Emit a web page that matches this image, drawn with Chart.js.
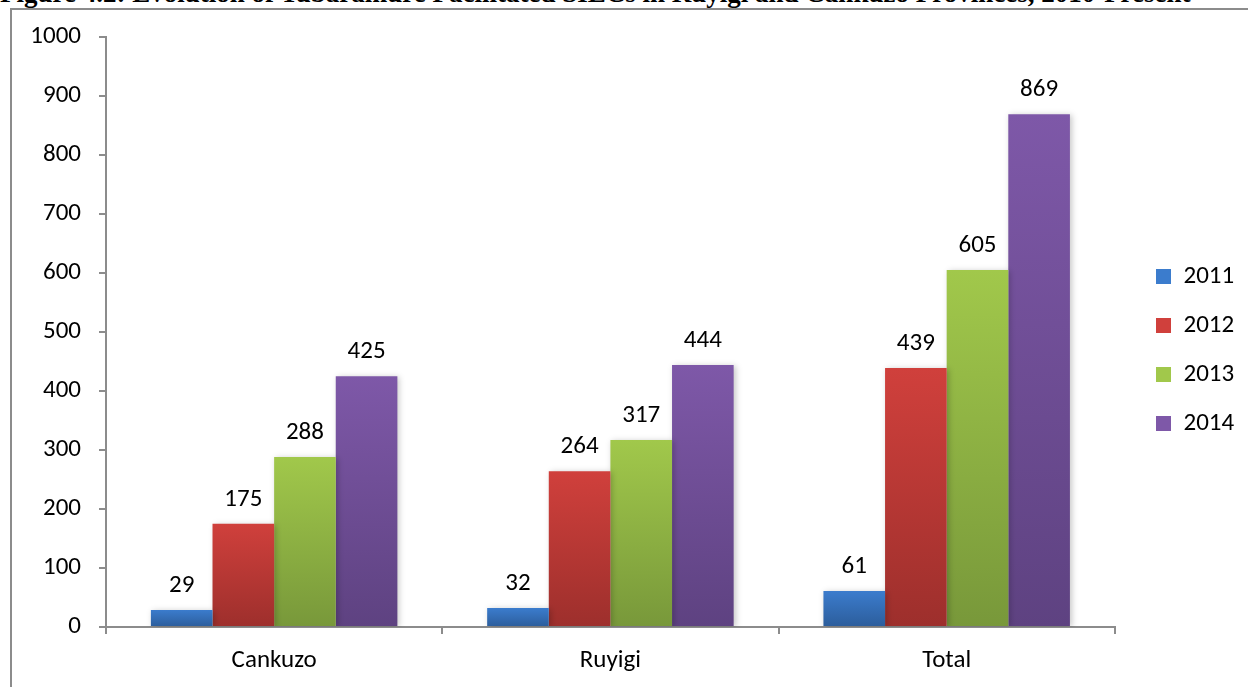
<!DOCTYPE html>
<html>
<head>
<meta charset="utf-8">
<script src="https://cdn.jsdelivr.net/npm/chart.js@4.4.1/dist/chart.umd.min.js"></script>
<style>
    html, body { margin: 0; padding: 0; background: #fff; overflow: hidden; }
    #title {
        position: absolute; left: 0; top: -20px; white-space: nowrap;
        font: bold 27px "Liberation Serif", "Times New Roman", serif; line-height: 27px; color: #000;
    }
    #frame {
        position: absolute; left: 10px; top: 8px; width: 1300px; height: 700px;
        border-top: 2px solid #8c8c8c; border-left: 2px solid #8c8c8c;
    }
    #wrap { position: absolute; left: 0; top: 0; width: 1248px; height: 687px; }
</style>
</head>
<body>
<div id="title">Figure 4.2: Evolution of Tubaramure Facilitated SILCs in Ruyigi and Cankuzo Provinces, 2010-Present</div>
<div id="frame"></div>
<div id="wrap"><canvas id="silcChart"></canvas></div>
<script>
const categories = ['Cankuzo', 'Ruyigi', 'Total'];
const years = ['2011', '2012', '2013', '2014'];
const values2011 = [29, 32, 61];
const values2012 = [175, 264, 439];
const values2013 = [288, 317, 605];
const values2014 = [425, 444, 869];
const yTicks = [0, 100, 200, 300, 400, 500, 600, 700, 800, 900, 1000];

// top / bottom shades of each year's gradient
const topColors = ['#3b7ccd', '#d0403c', '#a1c84b', '#7e58a8'];
const bottomColors = ['#2c5d9b', '#9d2f2c', '#78983a', '#5e4281'];

const fontFamily = 'Carlito, Calibri, Lato, "Open Sans", sans-serif';
const fontSize = 25;
const legendPad = 24;

function barGradient(i) {
    return function(context) {
        const chart = context.chart;
        const area = chart.chartArea;
        if (!area || context.type !== 'data') return topColors[i];
        const y = chart.scales.y;
        const top = y.getPixelForValue(context.raw);
        const bottom = y.getPixelForValue(0);
        if (!(bottom > top)) return topColors[i];
        const g = chart.ctx.createLinearGradient(0, top, 0, bottom);
        g.addColorStop(0, topColors[i]);
        g.addColorStop(1, bottomColors[i]);
        return g;
    };
}

const seriesValues = [values2011, values2012, values2013, values2014];

// bar shadows + value labels, and nudge the legend into place
const valueLabels = {
    id: 'valueLabels',
    afterLayout(chart) {
        const lg = chart.legend;
        const dx = 1156 - legendPad - lg.left;
        lg.left += dx;
        lg.right += dx;
        lg.top -= 12;
        lg.bottom -= 12;
    },
    beforeDatasetsDraw(chart) {
        const ctx = chart.ctx;
        ctx.save();
        ctx.shadowColor = 'rgba(0,0,0,0.22)';
        ctx.shadowBlur = 6;
        ctx.shadowOffsetX = 2;
        ctx.shadowOffsetY = 1;
    },
    afterDatasetsDraw(chart) {
        const ctx = chart.ctx;
        ctx.restore();
        ctx.save();
        ctx.font = fontSize + 'px ' + fontFamily;
        ctx.fillStyle = '#000';
        ctx.textAlign = 'center';
        ctx.textBaseline = 'alphabetic';
        chart.data.datasets.forEach((ds, i) => {
            chart.getDatasetMeta(i).data.forEach((bar, j) => {
                ctx.fillText(String(ds.data[j]), bar.x, bar.y - 18);
            });
        });
        ctx.restore();
    }
};

new Chart(document.getElementById('silcChart'), {
    type: 'bar',
    data: {
        labels: categories,
        datasets: years.map((yr, i) => ({
            label: yr,
            data: seriesValues[i],
            backgroundColor: barGradient(i),
            borderWidth: 0,
            categoryPercentage: 0.733,
            barPercentage: 1
        }))
    },
    plugins: [valueLabels],
    options: {
        responsive: true,
        maintainAspectRatio: false,
        animation: false,
        layout: { padding: { top: 37, right: 21, bottom: 0, left: 0 } },
        plugins: {
            legend: {
                position: 'right',
                labels: {
                    boxWidth: 15,
                    boxHeight: 15,
                    padding: legendPad,
                    color: '#000',
                    font: { family: fontFamily, size: fontSize },
                    generateLabels(chart) {
                        return chart.data.datasets.map((ds, i) => ({
                            text: ds.label,
                            fillStyle: topColors[i],
                            strokeStyle: 'rgba(0,0,0,0)',
                            lineWidth: 0,
                            datasetIndex: i
                        }));
                    }
                }
            },
            tooltip: { enabled: false }
        },
        scales: {
            x: {
                afterFit(scale) { scale.height = 60; },
                grid: { display: true, drawOnChartArea: false, drawTicks: true, tickLength: 7, color: '#8c8c8c', lineWidth: 2 },
                border: { display: true, color: '#8c8c8c', width: 2 },
                ticks: { color: '#000', padding: 12, font: { family: fontFamily, size: fontSize } }
            },
            y: {
                min: 0,
                max: 1000,
                afterFit(scale) { scale.width = 106; },
                afterBuildTicks(scale) { scale.ticks = yTicks.map(v => ({ value: v })); },
                grid: { display: true, drawOnChartArea: false, drawTicks: true, tickLength: 7, color: '#8c8c8c', lineWidth: 2 },
                border: { display: true, color: '#8c8c8c', width: 2 },
                ticks: {
                    color: '#000', padding: 18, font: { family: fontFamily, size: fontSize },
                    callback: (value) => String(value)
                }
            }
        }
    }
});
</script>
</body>
</html>
